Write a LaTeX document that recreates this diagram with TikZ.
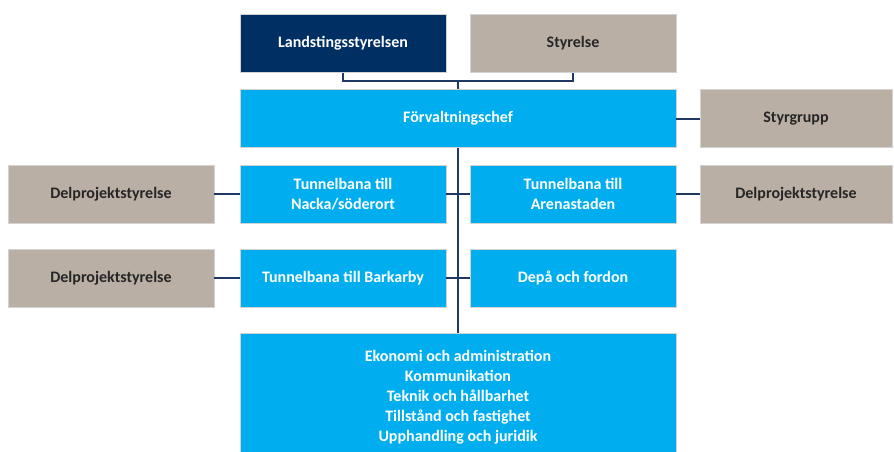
\documentclass[tikz,border=0pt]{standalone}
\usepackage{fontspec}
\setmainfont{Carlito}
\usetikzlibrary{positioning}

\definecolor{navy}{RGB}{0,48,99}
\definecolor{skyblue}{RGB}{0,174,239}
\definecolor{taupe}{RGB}{185,175,165}
\definecolor{linenavy}{RGB}{31,56,100}

\begin{document}
\begin{tikzpicture}[x=1pt, y=-1pt]
  \tikzset{every node/.style={font=\bfseries\fontsize{16}{20}\selectfont, align=center},
    box/.style={rectangle, draw=gray!35, line width=0.8pt, minimum height=58pt, inner sep=2pt},
    unit/.style={box, fill=skyblue, text=white, minimum width=206pt},
    board/.style={box, fill=taupe, text=black!85, minimum width=206pt},
    wire/.style={draw=linenavy, line width=2pt}}

  \useasboundingbox (0,0) rectangle (894,452);

  % top level
  \node[box, fill=navy, text=white, minimum width=206pt] (lans) at (343,43.5) {Landstingsstyrelsen};
  \node[board] (styr) at (573,43.5) {Styrelse};
  \node[unit, minimum width=436pt] (fchef) at (458,118.5) {Förvaltningschef};
  \node[board, minimum width=192pt] (styrgrp) at (796,118.5) {Styrgrupp};

  % projects
  \node[board] (dpl1) at (111,194) {Delprojektstyrelse};
  \node[unit] (nacka) at (343,194) {Tunnelbana till\\Nacka/söderort};
  \node[unit] (arena) at (573,194) {Tunnelbana till\\Arenastaden};
  \node[board, minimum width=192pt] (dpr) at (796,194) {Delprojektstyrelse};
  \node[board] (dpl2) at (111,278) {Delprojektstyrelse};
  \node[unit] (barka) at (343,278) {Tunnelbana till Barkarby};
  \node[unit] (depa) at (573,278) {Depå och fordon};

  % staff functions
  \node[unit, minimum width=436pt, minimum height=119pt] (adm) at (458,392.5) {};
  \node[text=white] (admtext) at ([yshift=-5pt]adm.center)
    {Ekonomi och administration\\Kommunikation\\Teknik och hållbarhet\\Tillstånd och fastighet\\Upphandling och juridik};

  \coordinate (join) at (458,81);
  \draw[wire] (lans.south) |- (join) -| (styr.south);
  \draw[wire] (join) -- (fchef.north);
  \draw[wire] (fchef.south) -- (adm.north);
  \draw[wire] (fchef.east) -- (styrgrp.west);
  \draw[wire] (dpl1.east) -- (nacka.west);
  \draw[wire] (nacka.east) -- (arena.west);
  \draw[wire] (arena.east) -- (dpr.west);
  \draw[wire] (dpl2.east) -- (barka.west);
  \draw[wire] (barka.east) -- (depa.west);
\end{tikzpicture}
\end{document}
